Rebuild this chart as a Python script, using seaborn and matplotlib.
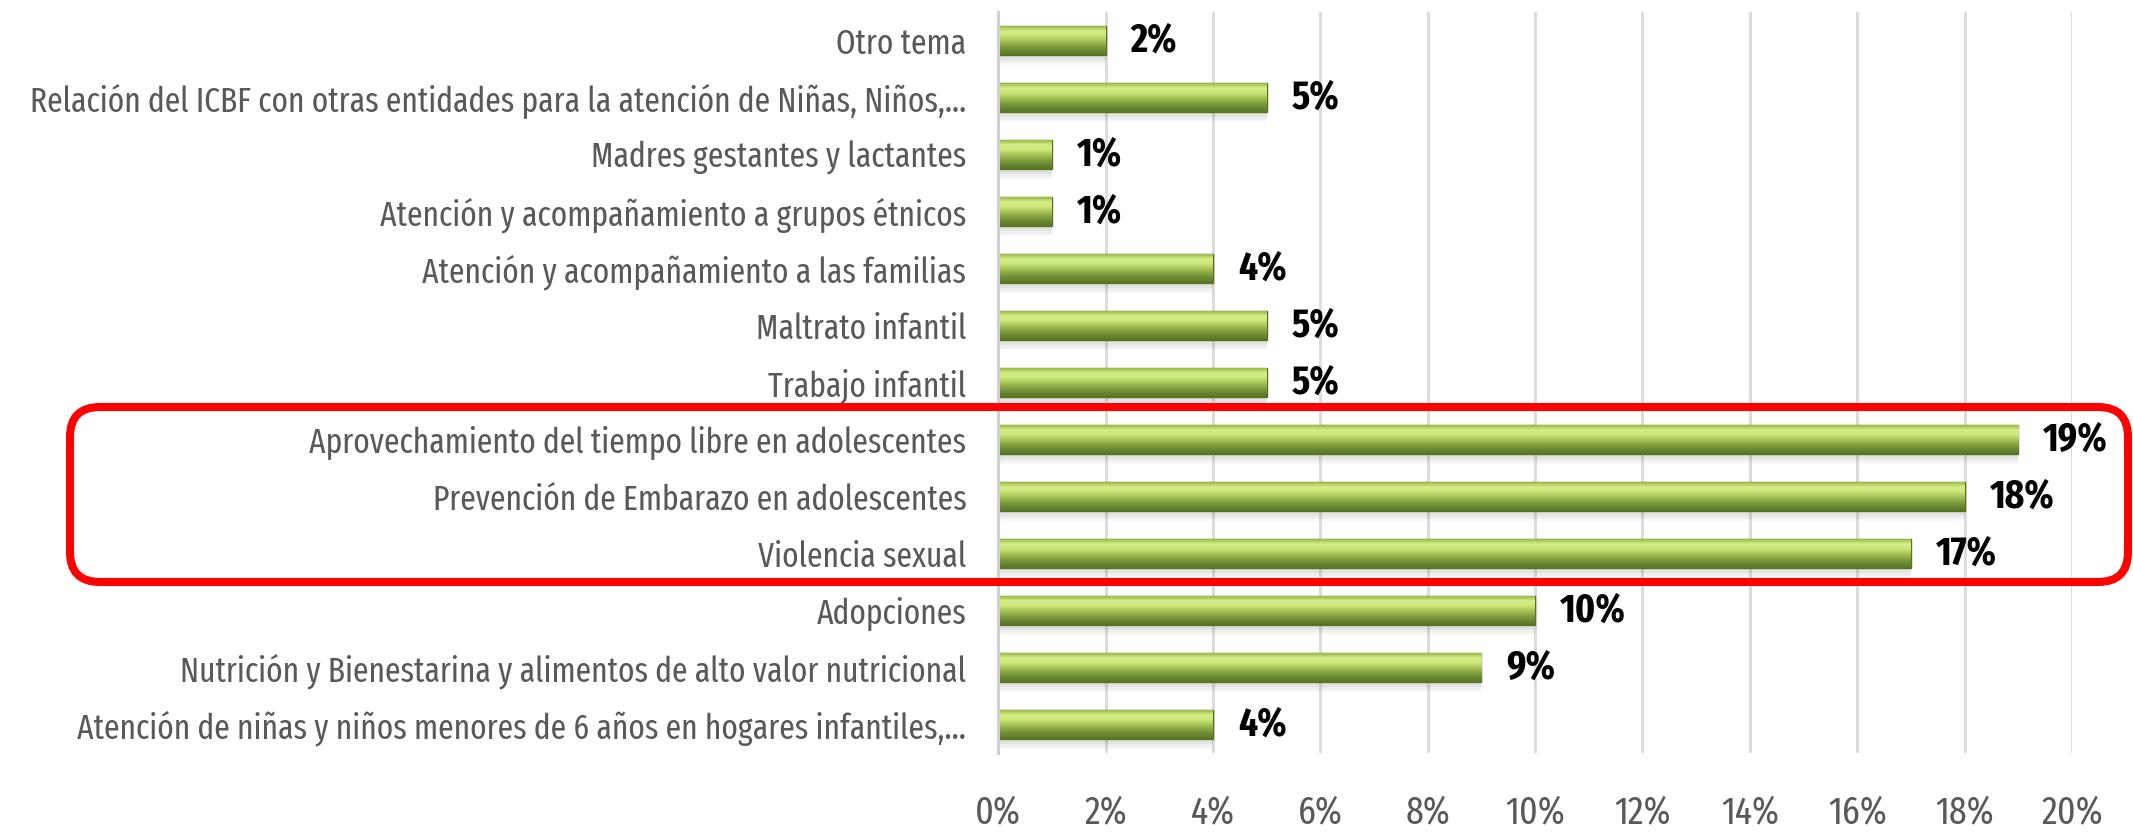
import numpy as np
import pandas as pd
import matplotlib
matplotlib.use("Agg")
import matplotlib.pyplot as plt
import seaborn as sns
from matplotlib.colors import LinearSegmentedColormap
from matplotlib.patches import FancyBboxPatch

# Datos del gráfico (de arriba hacia abajo)
temas = [
    "Otro tema",
    "Relación del ICBF con otras entidades para la atención de Niñas, Niños,...",
    "Madres gestantes y lactantes",
    "Atención y acompañamiento a grupos étnicos",
    "Atención y acompañamiento a las familias",
    "Maltrato infantil",
    "Trabajo infantil",
    "Aprovechamiento del tiempo libre en adolescentes",
    "Prevención de Embarazo en adolescentes",
    "Violencia sexual",
    "Adopciones",
    "Nutrición y Bienestarina y alimentos de alto valor nutricional",
    "Atención de niñas y niños menores de 6 años en hogares infantiles,...",
]
porcentajes = [2, 5, 1, 1, 4, 5, 5, 19, 18, 17, 10, 9, 4]
ticks_x = [0, 2, 4, 6, 8, 10, 12, 14, 16, 18, 20]
etiquetas_x = ["0%", "2%", "4%", "6%", "8%", "10%", "12%", "14%", "16%", "18%", "20%"]

df = pd.DataFrame({"tema": temas, "pct": porcentajes})

sns.set_theme(style="white")
plt.rcParams["font.family"] = ["Fira Sans Extra Condensed", "DejaVu Sans"]

fig = plt.figure(figsize=(21.33, 8.32), dpi=100)
ax = fig.add_axes([0.468, 0.095, 0.5034, 0.8906])

# Sombra suave debajo de cada barra
pos = np.arange(len(temas))
for desp, alfa in [(0.10, 0.10), (0.14, 0.08), (0.18, 0.05)]:
    ax.barh(pos + desp, porcentajes, height=0.5, color="#808080",
            alpha=alfa, lw=0, zorder=1)

sns.barplot(data=df, x="pct", y="tema", color="#8fb03c", orient="h",
            width=0.5, edgecolor="#56731c", linewidth=1.0, ax=ax, zorder=2)

# Degradado vertical para imitar el relieve de las barras
verde = LinearSegmentedColormap.from_list(
    "verde", ["#98b842", "#d4ee88", "#cbe67a", "#a8c656", "#86a542", "#6a8932", "#597626"])
grad = np.linspace(0, 1, 128).reshape(-1, 1)
for p in ax.patches[-len(temas):]:
    x0, y0, w, h = p.get_x(), p.get_y(), p.get_width(), p.get_height()
    im = ax.imshow(grad, cmap=verde, aspect="auto", origin="upper",
                   extent=(x0, x0 + w, y0 + h, y0), zorder=2.5)
    im.set_clip_path(p)

ax.set_xlim(0, 20)
ax.set_ylim(len(temas) - 0.5, -0.5)

ax.bar_label(ax.containers[-1], labels=[f"{v}%" for v in porcentajes],
             padding=18, fontsize=29, fontweight="bold", color="black")

ax.set_xticks(ticks_x)
ax.set_xticklabels(etiquetas_x)
ax.xaxis.grid(True, color="#dcdcdc", lw=2.2)
ax.yaxis.grid(False)
ax.set_axisbelow(True)
for s in ["top", "right", "bottom"]:
    ax.spines[s].set_visible(False)
ax.spines["left"].set_color("#d0d0d0")
ax.spines["left"].set_linewidth(2.2)
ax.set_xlabel("")
ax.set_ylabel("")
ax.tick_params(axis="y", length=0, pad=23, labelsize=24.6, labelcolor="#595959")
ax.tick_params(axis="x", length=0, pad=29, labelsize=28, labelcolor="#595959")

# Recuadro rojo sobre los tres temas principales
recuadro = FancyBboxPatch((0.70, 2.50), 20.58, 1.75,
                          boxstyle="round,pad=0,rounding_size=0.3",
                          transform=fig.dpi_scale_trans, fill=False,
                          ec="#ff0000", lw=5.8, clip_on=False)
fig.add_artist(recuadro)

fig.savefig("out.png", dpi=100)
